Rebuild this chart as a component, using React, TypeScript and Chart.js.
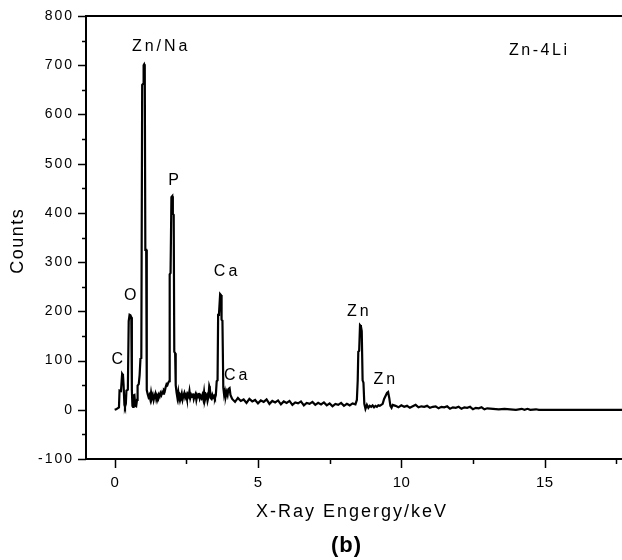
import { useEffect, useRef } from "react";
import { Chart, registerables } from "chart.js";

Chart.register(...registerables);

// ---- Data (energy keV, counts) ----
const spectrum: [number, number][] = [
  [0.0, 0], [0.05, 1], [0.1, 3], [0.15, 5], [0.17, 39], [0.22, 38], [0.26, 73], [0.29, 70], [0.31, 52],
  [0.34, 10], [0.36, 6], [0.39, 12], [0.41, 39], [0.46, 41], [0.49, 180], [0.52, 193], [0.55, 192],
  [0.58, 188], [0.6, 40], [0.62, 8], [0.64, 6], [0.66, 29], [0.69, 30], [0.72, 8], [0.75, 7], [0.78, 20],
  [0.8, 49], [0.84, 52], [0.87, 70], [0.9, 104], [0.93, 105], [0.96, 660], [0.99, 662], [1.01, 700],
  [1.03, 702], [1.05, 698], [1.07, 325], [1.1, 325], [1.12, 40],
  [1.15, 32], [1.18, 26], [1.21, 30], [1.24, 22], [1.27, 35], [1.3, 24], [1.33, 30], [1.36, 20], [1.39, 28],
  [1.42, 33], [1.45, 22], [1.48, 29], [1.51, 25], [1.54, 31], [1.57, 27], [1.6, 34], [1.63, 30], [1.66, 36],
  [1.69, 33], [1.72, 40], [1.75, 38], [1.78, 46], [1.81, 52], [1.84, 50], [1.87, 55],
  [1.9, 58], [1.92, 275], [1.95, 278], [1.98, 432], [2.01, 434], [2.03, 398], [2.06, 396], [2.08, 118],
  [2.11, 115], [2.13, 50], [2.16, 35],
  [2.19, 24], [2.22, 36], [2.25, 22], [2.28, 30], [2.31, 26], [2.34, 33], [2.37, 21], [2.4, 29], [2.43, 34],
  [2.46, 25], [2.49, 30], [2.52, 22], [2.55, 31], [2.58, 27], [2.61, 38], [2.64, 24], [2.67, 30], [2.7, 26],
  [2.73, 33], [2.76, 22], [2.79, 28], [2.82, 32], [2.85, 20], [2.88, 29], [2.91, 25], [2.94, 34], [2.97, 23],
  [3.0, 28], [3.03, 24], [3.06, 30], [3.09, 22], [3.12, 36], [3.15, 20], [3.18, 27], [3.21, 30], [3.24, 18],
  [3.27, 26], [3.3, 48], [3.32, 44], [3.35, 24], [3.38, 22], [3.41, 30], [3.44, 25], [3.47, 28], [3.5, 24],
  [3.53, 30], [3.56, 58], [3.59, 60],
  [3.61, 193], [3.64, 195], [3.68, 235], [3.71, 233], [3.73, 183], [3.76, 181], [3.79, 45], [3.82, 30],
  [3.85, 38], [3.88, 28], [3.91, 36], [3.94, 30], [3.97, 42], [4.01, 44], [4.04, 30], [4.07, 26],
  [4.1, 22], [4.2, 16], [4.3, 24], [4.4, 18], [4.5, 21], [4.6, 14], [4.7, 22], [4.8, 17], [4.9, 20], [5.0, 13],
  [5.1, 19], [5.2, 16], [5.3, 21], [5.4, 12], [5.5, 18], [5.6, 15], [5.7, 19], [5.8, 11], [5.9, 17], [6.0, 14],
  [6.1, 18], [6.2, 10], [6.3, 15], [6.4, 13], [6.5, 17], [6.6, 9], [6.7, 14], [6.8, 12], [6.9, 16], [7.0, 10],
  [7.1, 14], [7.2, 11], [7.3, 15], [7.4, 9], [7.5, 13], [7.6, 7], [7.7, 12], [7.8, 10], [7.9, 14], [8.0, 8],
  [8.1, 12], [8.2, 9], [8.3, 13], [8.4, 11],
  [8.45, 20], [8.48, 60], [8.5, 118], [8.53, 120], [8.56, 172], [8.59, 170], [8.62, 160], [8.65, 60],
  [8.68, 55], [8.71, 12], [8.75, 2], [8.8, 10], [8.85, 4], [8.9, 8], [8.95, 6], [9.0, 9], [9.05, 5], [9.1, 8],
  [9.15, 6], [9.2, 9], [9.25, 8], [9.3, 10], [9.35, 12], [9.4, 22], [9.45, 28], [9.5, 34], [9.54, 36],
  [9.58, 24], [9.62, 8], [9.66, 4], [9.7, 10],
  [9.8, 8], [9.9, 5], [10.0, 9], [10.1, 6], [10.2, 8], [10.3, 4], [10.4, 7], [10.5, 10], [10.6, 5], [10.7, 7],
  [10.8, 6], [10.9, 8], [11.0, 4], [11.1, 6], [11.2, 7], [11.3, 3], [11.4, 6], [11.5, 5], [11.6, 7], [11.7, 2],
  [11.8, 5], [11.9, 4], [12.0, 6], [12.1, 2], [12.2, 5], [12.3, 4], [12.4, 6], [12.5, 1], [12.6, 4], [12.7, 3],
  [12.8, 5], [12.9, 1], [13.0, 3], [13.2, 2], [13.4, 1], [13.6, 2], [13.8, 1], [14.0, 0], [14.2, 2], [14.3, 0],
  [14.4, 2], [14.5, 0], [14.7, 1], [14.8, 0], [17.7, 0],
];

const xMin = -1;
const xMax = 17.7;
const yMin = -100;
const yMax = 800;
const xMajorTicks = [0, 5, 10, 15];
const xMinorTicks = [2.5, 7.5, 12.5, 17.5];
const yMajorTicks = [-100, 0, 100, 200, 300, 400, 500, 600, 700, 800];
const yMinorTicks = [-50, 50, 150, 250, 350, 450, 550, 650, 750];

const peakLabels = [
  { text: "C", x: 0.09, y: 101 },
  { text: "O", x: 0.54, y: 231 },
  { text: "Zn/Na", x: 1.57, y: 737 },
  { text: "P", x: 2.06, y: 465 },
  { text: "Ca", x: 3.87, y: 280 },
  { text: "Ca", x: 4.22, y: 69 },
  { text: "Zn", x: 8.48, y: 199 },
  { text: "Zn", x: 9.41, y: 61 },
];
const sampleLabel = { text: "Zn-4Li", x: 14.77, y: 729 };
const xTitle = "X-Ray Engergy/keV";
const yTitle = "Counts";
const panelLabel = "(b)";

const FONT = "'Liberation Sans', Arial, sans-serif";

function drawText(
  ctx: CanvasRenderingContext2D,
  text: string,
  x: number,
  y: number,
  font: string,
  spacing: number,
  align: "left" | "center" | "right"
) {
  ctx.font = font;
  const c = ctx as any;
  const hasLS = "letterSpacing" in c;
  if (hasLS) c.letterSpacing = spacing + "px";
  let w = ctx.measureText(text).width;
  if (hasLS) w -= spacing;
  let sx = x;
  if (align === "center") sx = x - w / 2;
  else if (align === "right") sx = x - w;
  ctx.textAlign = "left";
  ctx.textBaseline = "middle";
  ctx.fillText(text, sx, y);
  if (hasLS) c.letterSpacing = "0px";
}

const decorPlugin = {
  id: "decor",
  afterDraw(chart: any) {
    const ctx: CanvasRenderingContext2D = chart.ctx;
    const xs = chart.scales.x;
    const ys = chart.scales.y;
    const ca = chart.chartArea;
    ctx.save();
    ctx.strokeStyle = "#000";
    ctx.fillStyle = "#000";
    ctx.lineWidth = 2;
    // frame: left, bottom, top
    ctx.beginPath();
    ctx.moveTo(ca.right, ca.top);
    ctx.lineTo(ca.left, ca.top);
    ctx.lineTo(ca.left, ca.bottom);
    ctx.lineTo(ca.right, ca.bottom);
    ctx.stroke();

    // ticks
    ctx.lineWidth = 1.5;
    ctx.beginPath();
    for (const v of xMajorTicks) {
      const px = Math.round(xs.getPixelForValue(v)) + 0.5;
      ctx.moveTo(px, ca.bottom);
      ctx.lineTo(px, ca.bottom + 9);
    }
    for (const v of xMinorTicks) {
      const px = Math.round(xs.getPixelForValue(v)) + 0.5;
      ctx.moveTo(px, ca.bottom);
      ctx.lineTo(px, ca.bottom + 5);
    }
    for (const v of yMajorTicks) {
      const py = Math.round(ys.getPixelForValue(v)) + 0.5;
      ctx.moveTo(ca.left, py);
      ctx.lineTo(ca.left - 8, py);
    }
    for (const v of yMinorTicks) {
      const py = Math.round(ys.getPixelForValue(v)) + 0.5;
      ctx.moveTo(ca.left, py);
      ctx.lineTo(ca.left - 4, py);
    }
    ctx.stroke();

    // tick labels
    for (const v of yMajorTicks) {
      drawText(ctx, String(v), 72, ys.getPixelForValue(v), `14px ${FONT}`, 2, "right");
    }
    for (const v of xMajorTicks) {
      drawText(ctx, String(v), xs.getPixelForValue(v), ca.bottom + 24, `15px ${FONT}`, 0.5, "center");
    }

    // axis titles
    drawText(ctx, xTitle, (ca.left + ca.right) / 2 - 3, ca.bottom + 53, `18px ${FONT}`, 2, "center");
    ctx.save();
    ctx.translate(18, (ca.top + ca.bottom) / 2 + 4);
    ctx.rotate(-Math.PI / 2);
    drawText(ctx, yTitle, 0, 0, `18px ${FONT}`, 1.5, "center");
    ctx.restore();

    // peak labels
    for (const l of peakLabels) {
      drawText(ctx, l.text, xs.getPixelForValue(l.x), ys.getPixelForValue(l.y), `16px ${FONT}`, 3, "center");
    }
    drawText(
      ctx,
      sampleLabel.text,
      xs.getPixelForValue(sampleLabel.x),
      ys.getPixelForValue(sampleLabel.y),
      `16px ${FONT}`,
      2.5,
      "center"
    );

    // panel label
    drawText(ctx, panelLabel, 346, 546, `bold 22px ${FONT}`, 1, "center");
    ctx.restore();
  },
};

export default function App() {
  const ref = useRef<HTMLCanvasElement | null>(null);
  useEffect(() => {
    document.body.style.margin = "0";
    const canvas = ref.current;
    if (!canvas) return;
    const chart = new Chart(canvas, {
      type: "line",
      data: {
        datasets: [
          {
            data: spectrum.map(([x, y]) => ({ x, y })),
            borderColor: "#000",
            borderWidth: 2.2,
            pointRadius: 0,
            tension: 0,
            fill: false,
          },
        ],
      },
      options: {
        animation: false,
        responsive: false,
        devicePixelRatio: 1,
        layout: { padding: { left: 86, top: 16, right: 0, bottom: 101 } },
        plugins: { legend: { display: false }, tooltip: { enabled: false } },
        scales: {
          x: { type: "linear", min: xMin, max: xMax, display: false },
          y: { type: "linear", min: yMin, max: yMax, display: false },
        },
      },
      plugins: [decorPlugin],
    });
    return () => chart.destroy();
  }, []);
  return (
    <div style={{ width: 622, height: 560, background: "#fff" }}>
      <canvas ref={ref} width={622} height={560} style={{ display: "block" }} />
    </div>
  );
}
